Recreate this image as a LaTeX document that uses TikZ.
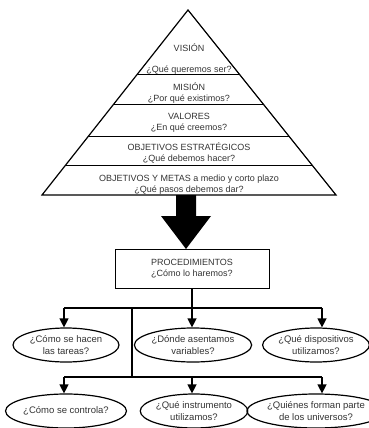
\documentclass[tikz,border=0pt]{standalone}
\usepackage{fontspec}
\setmainfont{Liberation Sans}
\usetikzlibrary{shapes.geometric,arrows.meta}

\tikzset{
  capa/.style={align=center, inner sep=1pt, text=black!80,
    font=\fontsize{9}{11}\selectfont},
  pregunta/.style={ellipse, draw, line width=1.2pt, minimum width=106pt,
    minimum height=34pt, inner sep=0pt, align=center, text=black!80,
    font=\fontsize{9.5}{11.5}\selectfont},
  linea/.style={line width=1.3pt},
  flecha/.style={line width=1.3pt, -{Triangle[length=9pt,width=9pt]}}
}

\begin{document}
\begin{tikzpicture}[x=1pt,y=-1pt]
    \useasboundingbox (0,0) rectangle (368,428);
    \coordinate (cima) at (188,10);
    \coordinate (basei) at (42,195);
    \coordinate (based) at (336,195);
    \begin{scope}
        \clip (cima) -- (basei) -- (based) -- cycle;
        \foreach \y in {74,104,136,165}
            \draw[line width=1pt] (0,\y) -- (368,\y);
    \end{scope}
    \draw[line width=1.2pt] (cima) -- (basei) -- (based) -- cycle;

    \node[capa] (vision) at (189,59) {VISIÓN\\[10pt]¿Qué queremos ser?};
    \node[capa] (mision) at (189,93) {MISIÓN\\¿Por qué existimos?};
    \node[capa] (valores) at (189,123) {VALORES\\¿En qué creemos?};
    \node[capa] (estrategicos) at (189,153) {OBJETIVOS ESTRATÉGICOS\\¿Qué debemos hacer?};
    \node[capa] (metas) at (189,185) {OBJETIVOS Y METAS a medio y corto plazo\\¿Qué pasos debemos dar?};

    \fill (176,195) -- (196,195) -- (196,216) -- (211,216) -- (186,249)
        -- (161,216) -- (176,216) -- cycle;

    \node[capa, draw, line width=1pt, minimum width=154pt, minimum height=39pt]
        (proc) at (192,268.5) {PROCEDIMIENTOS\\¿Cómo lo haremos?};

    \node[pregunta] (tareas) at (66,345) {¿Cómo se hacen\\las tareas?};
    \node[pregunta] (variables) at (193,345) {¿Dónde asentamos\\variables?};
    \node[pregunta] (dispositivos) at (316,345) {¿Qué dispositivos\\utilizamos?};
    \node[pregunta] (control) at (66,411) {¿Cómo se controla?};
    \node[pregunta] (instrumento) at (194,411) {¿Qué instrumento\\utilizamos?};
    \node[pregunta] (universos) at (316,411) {¿Quiénes forman parte\\de los universos?};

    \coordinate (a1) at (64,308);
    \coordinate (a2) at (192,308);
    \coordinate (a3) at (322,308);
    \coordinate (ac) at (132,308);
    \coordinate (b1) at (64,377);
    \coordinate (b2) at (192,377);
    \coordinate (b3) at (322,377);
    \coordinate (bc) at (132,377);

    \draw[linea] (proc.south) -- (a2);
    \draw[linea] (a1) -- (a3);
    \draw[linea] (ac) -- (bc);
    \draw[linea] (b1) -- (b3);
    \draw[flecha] (a1) -- (a1 |- tareas.north);
    \draw[flecha] (a2) -- (a2 |- variables.north);
    \draw[flecha] (a3) -- (a3 |- dispositivos.north);
    \draw[flecha] (b1) -- (b1 |- control.north);
    \draw[flecha] (b2) -- (b2 |- instrumento.north);
    \draw[flecha] (b3) -- (b3 |- universos.north);
\end{tikzpicture}
\end{document}
